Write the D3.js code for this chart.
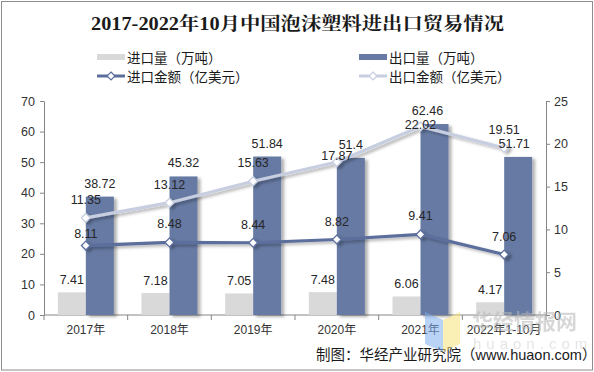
<!DOCTYPE html>
<html lang="zh">
<head>
<meta charset="utf-8">
<script src="https://d3js.org/d3.v7.min.js"></script>
<style>
  body { margin: 0; background: #fff; }
  svg text { font-family: "Liberation Sans", Arial, "Noto Sans CJK SC", sans-serif; }
</style>
</head>
<body>
<svg id="chart" width="594" height="372"></svg>
<script>
// data
const years = ["2017年", "2018年", "2019年", "2020年", "2021年", "2022年1-10月"];
const importVol = [7.41, 7.18, 7.05, 7.48, 6.06, 4.17];      // 进口量（万吨）
const exportVol = [38.72, 45.32, 51.84, 51.4, 62.46, 51.71]; // 出口量（万吨）
const importAmt = [8.11, 8.48, 8.44, 8.82, 9.41, 7.06];      // 进口金额（亿美元）
const exportAmt = [11.35, 13.12, 15.63, 17.87, 22.02, 19.51]; // 出口金额（亿美元）

const svg = d3.select("#chart");
const pLeft = 44, pRight = 546, pTop = 101, pBottom = 315;

const colImp = "#d9d9d9", colExp = "#667aa3";
const colImpLine = "#5b6e9c", colExpLine = "#c7cee0";

// shadow filter
const defs = svg.append("defs");
const f = defs.append("filter").attr("id", "sh").attr("x", "-20%").attr("y", "-20%").attr("width", "160%").attr("height", "160%");
f.append("feDropShadow").attr("dx", 3).attr("dy", 2).attr("stdDeviation", 1.8)
  .attr("flood-color", "#000").attr("flood-opacity", 0.3);

// outer frame
svg.append("rect").attr("x", 1.5).attr("y", 1.5).attr("width", 591).attr("height", 368.5)
  .attr("fill", "none").attr("stroke", "#8c8c8c").attr("stroke-width", 1);

// title, stretched to the width of the original
svg.append("text").attr("x", 91).attr("y", 24)
  .attr("dominant-baseline", "central")
  .attr("textLength", 413).attr("lengthAdjust", "spacingAndGlyphs")
  .style("font-family", "'Liberation Serif', 'Noto Serif CJK SC', 'Noto Sans CJK SC', serif")
  .style("font-weight", "bold").style("font-size", "18px").attr("fill", "#1a1a1a")
  .text("2017-2022年10月中国泡沫塑料进出口贸易情况");

// scales
const x = d3.scaleBand().domain(years).range([pLeft, pRight]);
const bw = x.bandwidth() * 0.335;
const yL = d3.scaleLinear().domain([0, 70]).range([pBottom, pTop]);
const yR = d3.scaleLinear().domain([0, 25]).range([pBottom, pTop]);
const cx = d => x(d) + x.bandwidth() / 2;

// axes
const axL = svg.append("g").attr("transform", `translate(${pLeft},0)`)
  .call(d3.axisLeft(yL).ticks(7).tickSize(4).tickSizeOuter(0).tickPadding(5));
const axR = svg.append("g").attr("transform", `translate(${pRight},0)`)
  .call(d3.axisRight(yR).ticks(5).tickSize(4).tickSizeOuter(0).tickPadding(4));
[axL, axR].forEach(g => {
  g.select(".domain").attr("stroke", "#868686");
  g.selectAll(".tick line").attr("stroke", "#868686");
  g.selectAll(".tick text").style("font-size", "12.5px").attr("fill", "#333");
});

// category axis with boundary ticks
const axB = svg.append("g");
axB.append("line").attr("x1", pLeft).attr("x2", pRight).attr("y1", pBottom).attr("y2", pBottom)
  .attr("stroke", "#868686");
axB.selectAll("line.b").data(d3.range(years.length + 1)).join("line").attr("class", "b")
  .attr("x1", i => pLeft + i * x.step()).attr("x2", i => pLeft + i * x.step())
  .attr("y1", pBottom).attr("y2", pBottom + 5).attr("stroke", "#868686");
axB.selectAll("text").data(years).join("text")
  .attr("x", cx).attr("y", 330).attr("text-anchor", "middle").attr("dominant-baseline", "central")
  .style("font-size", "12px").attr("fill", "#333").text(d => d);

// bars
svg.append("g").selectAll("rect").data(years).join("rect")
  .attr("x", d => cx(d) - bw).attr("width", bw)
  .attr("y", (d, i) => yL(importVol[i])).attr("height", (d, i) => pBottom - yL(importVol[i]))
  .attr("fill", colImp);
svg.append("g").attr("filter", "url(#sh)").selectAll("rect").data(years).join("rect")
  .attr("x", d => cx(d)).attr("width", bw)
  .attr("y", (d, i) => yL(exportVol[i])).attr("height", (d, i) => pBottom - yL(exportVol[i]))
  .attr("fill", colExp);

// lines
const diamond = d3.symbol().type(d3.symbolDiamond2).size(50);
function drawLine(vals, color) {
  const g = svg.append("g").attr("filter", "url(#sh)");
  g.append("path").datum(vals)
    .attr("d", d3.line().x((v, i) => cx(years[i])).y(v => yR(v)))
    .attr("fill", "none").attr("stroke", color).attr("stroke-width", 3.2);
  g.selectAll("path.m").data(vals).join("path").attr("class", "m")
    .attr("d", diamond)
    .attr("transform", (v, i) => `translate(${cx(years[i])},${yR(v)})`)
    .attr("fill", "#fff").attr("stroke", color).attr("stroke-width", 1.3);
}
drawLine(importAmt, colImpLine);
drawLine(exportAmt, colExpLine);

// value labels (a few were nudged by hand in the original)
const nudgeExpAmt = { 3: 12, 4: 16 };
const nudgeExpVol = { 4: [-7, 0], 5: [-4, 0] };
const nudgeImpAmt = { 0: 6 };
const lab = svg.append("g").style("font-size", "12.5px").attr("fill", "#262626")
  .attr("text-anchor", "middle").attr("dominant-baseline", "central");
years.forEach((d, i) => {
  lab.append("text").attr("x", cx(d) - bw / 2).attr("y", yL(importVol[i]) - 12).text(importVol[i]);
  const nv = nudgeExpVol[i] || [0, 0];
  lab.append("text").attr("x", cx(d) + bw / 2 + nv[0]).attr("y", yL(exportVol[i]) - 13 + nv[1]).text(exportVol[i]);
  lab.append("text").attr("x", cx(d)).attr("y", yR(importAmt[i]) - 18 + (nudgeImpAmt[i] || 0)).text(importAmt[i]);
  lab.append("text").attr("x", cx(d)).attr("y", yR(exportAmt[i]) - 18 + (nudgeExpAmt[i] || 0)).text(exportAmt[i]);
});

// legend
const legend = [
  { name: "进口量（万吨）", type: "bar", color: colImp, x: 97, y: 57 },
  { name: "出口量（万吨）", type: "bar", color: colExp, x: 359, y: 57 },
  { name: "进口金额（亿美元）", type: "line", color: colImpLine, x: 97, y: 76 },
  { name: "出口金额（亿美元）", type: "line", color: colExpLine, x: 359, y: 76 }
];
const lg = svg.append("g");
legend.forEach(l => {
  if (l.type === "bar") {
    lg.append("rect").attr("x", l.x).attr("y", l.y - 3).attr("width", 28).attr("height", 6).attr("fill", l.color);
  } else {
    lg.append("line").attr("x1", l.x).attr("x2", l.x + 28).attr("y1", l.y).attr("y2", l.y)
      .attr("stroke", l.color).attr("stroke-width", 3);
    lg.append("path").attr("d", d3.symbol().type(d3.symbolDiamond2).size(40))
      .attr("transform", `translate(${l.x + 14},${l.y})`)
      .attr("fill", "#fff").attr("stroke", l.color).attr("stroke-width", 1.2);
  }
  lg.append("text").attr("x", l.x + 30).attr("y", l.y).attr("dominant-baseline", "central")
    .style("font-size", "13.5px").style("font-family", "'Noto Sans CJK SC', sans-serif")
    .attr("fill", "#1a1a1a").text(l.name);
});

// source
svg.append("text").attr("x", 316).attr("y", 355).attr("dominant-baseline", "central")
  .style("font-size", "14.5px").attr("fill", "#1a1a1a")
  .text("制图：华经产业研究院（www.huaon.com）");

// watermark
const wm = svg.append("g").attr("opacity", 0.55);
wm.append("polygon").attr("points", "425,312 443,320 443,352 425,344").attr("fill", "#7fb0f0");
wm.append("polygon").attr("points", "443,320 460,312 460,344 443,352").attr("fill", "#f7e27a");
wm.append("text").attr("x", 472).attr("y", 320).attr("dominant-baseline", "central")
  .style("font-size", "21px").style("font-weight", "bold").style("font-family", "'Noto Sans CJK SC', sans-serif")
  .attr("fill", "#b8b8b8").text("华经情报网");
wm.append("text").attr("x", 473).attr("y", 343).attr("dominant-baseline", "central")
  .style("font-size", "15px").style("letter-spacing", "5px").attr("fill", "#cfcfcf").text("huaon.com");
</script>
</body>
</html>
